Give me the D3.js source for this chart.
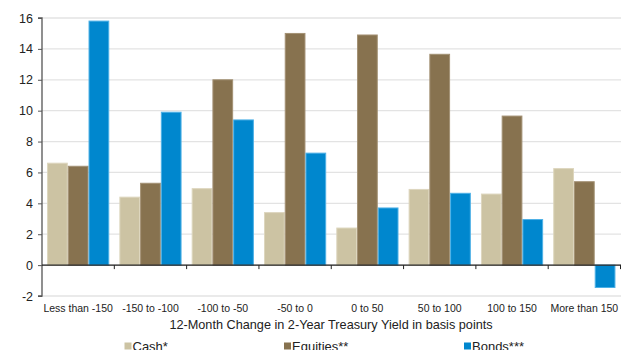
<!DOCTYPE html>
<html><head><meta charset="utf-8">
<script src="https://cdn.jsdelivr.net/npm/d3@7"></script>
<style>body{margin:0;background:#fff;overflow:hidden}svg{display:block}text{font-family:"Liberation Sans",Arial,sans-serif}</style>
</head><body><svg id="c" width="621" height="350"></svg>
<script>
const categories = ["Less than -150","-150 to -100","-100 to -50","-50 to 0","0 to 50","50 to 100","100 to 150","More than 150"];
const seriesNames = ["Cash*","Equities**","Bonds***"];
const cash     = [6.6, 4.4, 4.95, 3.4, 2.4, 4.9, 4.6, 6.25];
const equities = [6.4, 5.3, 12.0, 15.0, 14.9, 13.65, 9.65, 5.4];
const bonds    = [15.8, 9.9, 9.4, 7.25, 3.7, 4.65, 2.95, -1.45];
const yTicks = [-2,0,2,4,6,8,10,12,14,16];
const colors = ["#CCC3A3","#87724F","#0087CE"];
const strokes = ["#DDD6BE","#A39174","#4DB0E6"];

const svg = d3.select("#c");
const x0 = d3.scaleBand().domain(categories).range([42,620.5]).paddingInner(0.14).paddingOuter(0.07);
const x1 = d3.scaleBand().domain(seriesNames).range([0,x0.bandwidth()]);
const y = d3.scaleLinear().domain([-2,16]).range([296,18]);

// gridlines
svg.append("g").selectAll("line").data(yTicks).join("line")
  .attr("x1",42).attr("x2",621).attr("y1",d=>y(d)).attr("y2",d=>y(d))
  .attr("stroke","#E3E3E3").attr("stroke-width",1.3);

const data = [cash, equities, bonds];
const g = svg.append("g");
categories.forEach((c,i)=>{
  seriesNames.forEach((s,j)=>{
    const v = data[j][i];
    g.append("rect")
      .attr("x", x0(c)+x1(s)+0.5)
      .attr("width", x1.bandwidth()-1)
      .attr("y", y(Math.max(0,v)))
      .attr("height", Math.abs(y(v)-y(0)))
      .attr("fill", colors[j]).attr("stroke", strokes[j]).attr("stroke-width",1);
  });
});

// y axis
const yAxis = d3.axisLeft(y).tickValues(yTicks).tickSize(4).tickPadding(5).tickFormat(d=>String(d));
const ya = svg.append("g").attr("transform","translate(42,0)").call(yAxis);
ya.select(".domain").attr("stroke","#555").attr("stroke-width",1.3).attr("d","M-4,"+y(16)+"H0V"+y(-2)+"H-4");
ya.selectAll(".tick line").attr("stroke","#555");
ya.selectAll(".tick text").attr("font-size",12.5).attr("fill","#222");

// x axis at zero
const xb = svg.append("g");
xb.append("line").attr("x1",42).attr("x2",621).attr("y1",y(0)).attr("y2",y(0)).attr("stroke","#222").attr("stroke-width",1.3);
const bounds = categories.slice(1).map(c=>x0(c)-x0.step()*x0.paddingInner()/2);
bounds.push(620.5);
xb.selectAll("line.t").data(bounds).join("line").attr("class","t")
  .attr("x1",d=>d).attr("x2",d=>d).attr("y1",y(0)).attr("y2",y(0)+4).attr("stroke","#222");

// category labels
svg.append("g").selectAll("text").data(categories).join("text")
  .attr("x",d=>x0(d)+x0.bandwidth()/2).attr("y",312)
  .attr("text-anchor","middle").attr("font-size",10.5).attr("fill","#222").text(d=>d);

svg.append("text").attr("x",331).attr("y",329).attr("text-anchor","middle")
  .attr("font-size",12.7).attr("fill","#222").text("12-Month Change in 2-Year Treasury Yield in basis points");

// legend
const legX = [124.5, 284, 464];
const lg = svg.append("g");
seriesNames.forEach((s,j)=>{
  lg.append("rect").attr("x",legX[j]).attr("y",342.5).attr("width",7).attr("height",7).attr("fill",colors[j]);
  lg.append("text").attr("x",legX[j]+8).attr("y",350.5).attr("font-size",13).attr("fill","#222").text(s);
});
</script></body></html>
